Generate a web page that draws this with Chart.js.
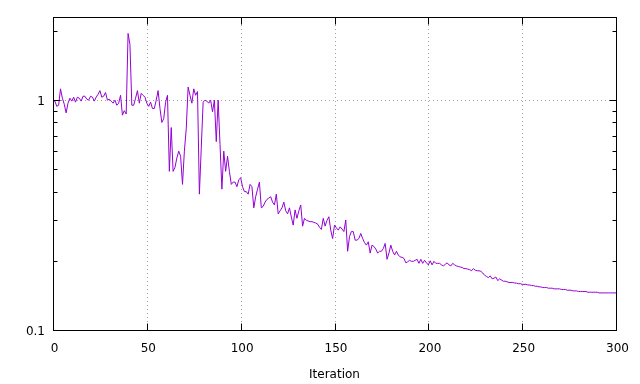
<!DOCTYPE html>
<html>
<head>
<meta charset="utf-8">
<script src="https://cdn.jsdelivr.net/npm/chart.js@4/dist/chart.umd.min.js"></script>
<style>
  html, body { margin: 0; padding: 0; background: #fff; }
  canvas { display: block; }
</style>
</head>
<body>
<canvas id="grafico" width="640" height="384"></canvas>
<script>
// valores, um por iteração (0..300)
const perda = [
  1.00, 0.99, 0.94, 0.95, 1.12, 1.02, 0.96, 0.88, 0.97, 1.02,
  0.99, 1.03, 0.98, 1.03, 1.02, 0.99, 1.04, 1.04, 1.01, 1.00,
  1.04, 1.03, 0.99, 1.03, 1.06, 1.10, 1.03, 1.04, 1.08, 1.00,
  1.01, 0.99, 0.97, 1.00, 0.95, 0.97, 1.05, 0.86, 0.90, 0.87,
  1.95, 1.75, 0.95, 0.95, 1.02, 1.10, 0.97, 1.07, 1.05, 1.03,
  0.97, 0.94, 0.98, 0.92, 0.92, 1.00, 1.10, 0.92, 0.80, 0.83,
  0.98, 1.05, 0.49, 0.76, 0.49, 0.51, 0.56, 0.60, 0.57, 0.43,
  0.60, 0.75, 1.14, 1.05, 0.97, 1.12, 1.05, 1.09, 0.39, 0.62,
  0.98, 1.00, 0.99, 0.97, 1.00, 0.89, 1.00, 0.66, 1.00, 0.64,
  0.41, 0.60, 0.49, 0.57, 0.49, 0.43, 0.44, 0.44, 0.42, 0.45,
  0.46, 0.42, 0.40, 0.40, 0.39, 0.43, 0.42, 0.34, 0.38, 0.41,
  0.44, 0.34, 0.345, 0.36, 0.37, 0.375, 0.38, 0.36, 0.35, 0.39,
  0.32, 0.33, 0.34, 0.36, 0.33, 0.32, 0.34, 0.31, 0.286, 0.333,
  0.306, 0.33, 0.35, 0.283, 0.306, 0.30, 0.298, 0.296, 0.296, 0.294,
  0.292, 0.289, 0.28, 0.274, 0.306, 0.283, 0.30, 0.311, 0.272, 0.25,
  0.286, 0.278, 0.272, 0.281, 0.275, 0.268, 0.301, 0.22, 0.255, 0.268,
  0.268, 0.246, 0.246, 0.25, 0.263, 0.25, 0.24, 0.234, 0.242, 0.216,
  0.234, 0.231, 0.225, 0.216, 0.22, 0.22, 0.226, 0.238, 0.203, 0.216,
  0.234, 0.22, 0.212, 0.22, 0.212, 0.208, 0.207, 0.205, 0.196, 0.198,
  0.201, 0.199, 0.199, 0.201, 0.203, 0.195, 0.203, 0.195, 0.201, 0.196,
  0.192, 0.20, 0.192, 0.199, 0.195, 0.195, 0.195, 0.192, 0.19, 0.193,
  0.196, 0.192, 0.19, 0.195, 0.192, 0.19, 0.189, 0.188, 0.187, 0.185,
  0.185, 0.184, 0.183, 0.181, 0.185, 0.182, 0.181, 0.181, 0.18, 0.177,
  0.173, 0.171, 0.169, 0.172, 0.167, 0.168, 0.17, 0.164, 0.167, 0.165,
  0.163, 0.163, 0.162, 0.161, 0.161, 0.161, 0.16, 0.16, 0.159, 0.159,
  0.158, 0.158, 0.158, 0.157, 0.157, 0.156, 0.156, 0.155, 0.155, 0.154,
  0.154, 0.153, 0.153, 0.153, 0.152, 0.152, 0.152, 0.151, 0.151, 0.151,
  0.151, 0.15, 0.15, 0.15, 0.149, 0.149, 0.149, 0.148, 0.148, 0.148,
  0.147, 0.147, 0.147, 0.147, 0.147, 0.146, 0.146, 0.146, 0.146, 0.146,
  0.146, 0.145, 0.145, 0.145, 0.145, 0.145, 0.145, 0.145, 0.145, 0.145,
  0.145
];
const iteracoes = perda.map((_, i) => i);

const xTicks = [0, 50, 100, 150, 200, 250, 300];
const yMajor = [0.1, 1];
const yMinor = [0.2, 0.3, 0.4, 0.5, 0.6, 0.7, 0.8, 0.9, 2];

const corLinha = '#9400d3';

// moldura, grade pontilhada e marcas para dentro, estilo gnuplot
const moldura = {
  id: 'moldura',
  beforeDatasetsDraw(chart) {
    const { ctx, chartArea: a, scales: { x, y } } = chart;
    ctx.save();
    ctx.strokeStyle = '#a0a0a0';
    ctx.lineWidth = 1;
    ctx.setLineDash([1, 3]);
    xTicks.slice(1, -1).forEach(v => {
      const px = Math.round(x.getPixelForValue(v)) + 0.5;
      ctx.beginPath(); ctx.moveTo(px, a.top); ctx.lineTo(px, a.bottom); ctx.stroke();
    });
    const py = Math.round(y.getPixelForValue(1)) + 0.5;
    ctx.beginPath(); ctx.moveTo(a.left, py); ctx.lineTo(a.right, py); ctx.stroke();
    ctx.restore();
  },
  afterDatasetsDraw(chart) {
    const { ctx, chartArea: a, scales: { x, y } } = chart;
    const L = Math.round(a.left) + 0.5, R = Math.round(a.right) + 0.5;
    const T = Math.round(a.top) + 0.5, B = Math.round(a.bottom) + 0.5;
    ctx.save();
    ctx.strokeStyle = '#000';
    ctx.lineWidth = 1;
    ctx.beginPath();
    xTicks.slice(1, -1).forEach(v => {
      const px = Math.round(x.getPixelForValue(v)) + 0.5;
      ctx.moveTo(px, B); ctx.lineTo(px, B - 7);
      ctx.moveTo(px, T); ctx.lineTo(px, T + 7);
    });
    yMajor.concat(yMinor).forEach(v => {
      const len = yMajor.includes(v) ? 7 : 4;
      const py = Math.round(y.getPixelForValue(v)) + 0.5;
      ctx.moveTo(L, py); ctx.lineTo(L + len, py);
      ctx.moveTo(R, py); ctx.lineTo(R - len, py);
    });
    ctx.stroke();
    ctx.strokeRect(L, T, R - L, B - T);
    ctx.restore();
  }
};

Chart.defaults.font.family = '"DejaVu Sans", sans-serif';
Chart.defaults.font.size = 12;
Chart.defaults.color = '#000';

const grafico = new Chart(document.getElementById('grafico'), {
  type: 'line',
  data: {
    labels: iteracoes,
    datasets: [{
      data: perda,
      borderColor: corLinha,
      borderWidth: 1,
      pointRadius: 0,
      tension: 0,
      fill: false
    }]
  },
  options: {
    responsive: false,
    animation: false,
    layout: { padding: { left: 0, right: 24, top: 17, bottom: 0 } },
    plugins: { legend: { display: false }, tooltip: { enabled: false } },
    scales: {
      x: {
        type: 'linear',
        min: 0,
        max: 300,
        grid: { display: false, drawTicks: false },
        border: { display: false },
        ticks: { stepSize: 50, padding: 12, maxRotation: 0, labelOffset: 1.5 },
        title: { display: true, text: 'Iteration', padding: { top: 0, bottom: 2 } },
        afterFit(scale) { scale.height = 54; }
      },
      y: {
        type: 'logarithmic',
        min: 0.1,
        max: 2.3,
        grid: { display: false, drawTicks: false },
        border: { display: false },
        ticks: { padding: 8, labelOffset: 1.5, callback: v => String(v) },
        afterBuildTicks(scale) { scale.ticks = yMajor.map(v => ({ value: v })); },
        afterFit(scale) { scale.width = 53; }
      }
    }
  },
  plugins: [moldura]
});
</script>
</body>
</html>
